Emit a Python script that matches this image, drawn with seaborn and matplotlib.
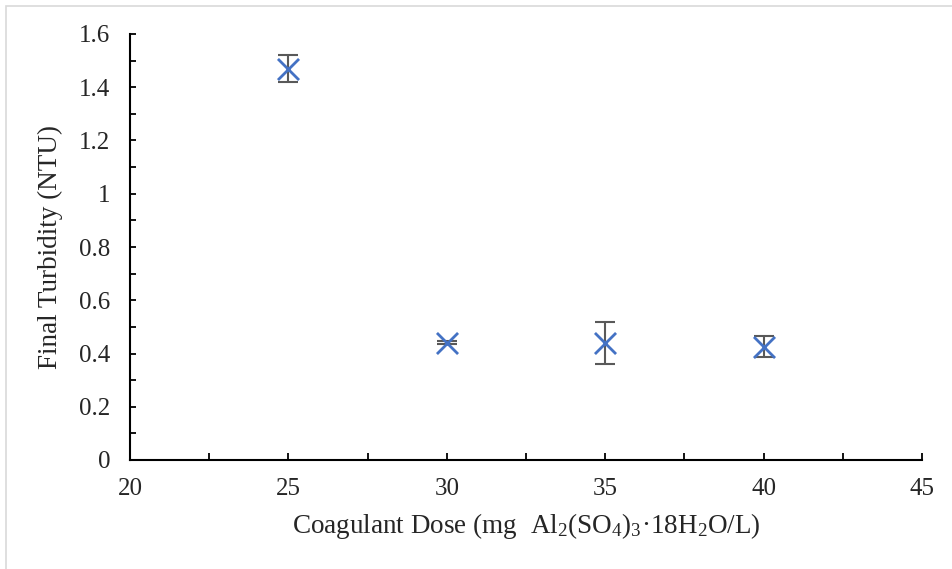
import matplotlib
matplotlib.use("Agg")
import matplotlib.pyplot as plt
import matplotlib.ticker as mticker
from matplotlib.patches import Rectangle
import seaborn as sns
import pandas as pd

# Data
dose = [25, 30, 35, 40]
turbidity = [1.47, 0.44, 0.44, 0.425]
err = [0.05, 0.006, 0.08, 0.04]

df = pd.DataFrame({"dose": dose, "turbidity": turbidity, "err": err})

sns.set_style("ticks")
plt.rcParams["font.family"] = ["Liberation Serif", "DejaVu Serif"]
plt.rcParams["mathtext.fontset"] = "custom"
plt.rcParams["mathtext.rm"] = "Liberation Serif"
plt.rcParams["mathtext.it"] = "Liberation Serif:italic"

fig = plt.figure(figsize=(9.52, 5.69), dpi=100)
ax = fig.add_axes([130/952, 1-460/569, (922-130)/952, (460-34)/569])

# outer light gray border
fig.patches.append(Rectangle((6/952, -0.01), 1.0, 1.0 - 6/569 + 0.01, transform=fig.transFigure,
                             fill=False, edgecolor="#d9d9d9", linewidth=1.2))

ax.errorbar(df["dose"], df["turbidity"], yerr=df["err"], fmt="none",
            ecolor="#595959", elinewidth=1.5, capsize=7, capthick=1.5, zorder=2)
sns.scatterplot(data=df, x="dose", y="turbidity", marker="x", s=230,
                color="#4472C4", linewidth=2.0, ax=ax, zorder=3, legend=False)

ax.set_xlim(20, 45)
ax.set_ylim(0, 1.6)
ax.xaxis.set_major_locator(mticker.MultipleLocator(5))
ax.xaxis.set_minor_locator(mticker.MultipleLocator(2.5))
ax.yaxis.set_major_locator(mticker.MultipleLocator(0.2))
ax.yaxis.set_minor_locator(mticker.MultipleLocator(0.1))
ax.yaxis.set_major_formatter(mticker.FuncFormatter(lambda v, p: f"{v:g}"))
ax.xaxis.set_major_formatter(mticker.FuncFormatter(lambda v, p: f"{v:g}"))

ax.tick_params(axis="both", which="both", direction="in", color="black", width=1.3, labelsize=18)
ax.tick_params(axis="y", which="both", length=4, pad=14)
ax.tick_params(axis="x", which="both", length=5, pad=13)

sns.despine(ax=ax)
for s in ["left", "bottom"]:
    ax.spines[s].set_linewidth(1.5)
    ax.spines[s].set_color("black")

ax.set_xlabel("Coagulant Dose (mg  Al$_2$(SO$_4$)$_3$·18H$_2$O/L)", fontsize=19.5, labelpad=8)
ax.set_ylabel("Final Turbidity (NTU)", fontsize=19.5, labelpad=12)

fig.savefig("out.png", dpi=100)
